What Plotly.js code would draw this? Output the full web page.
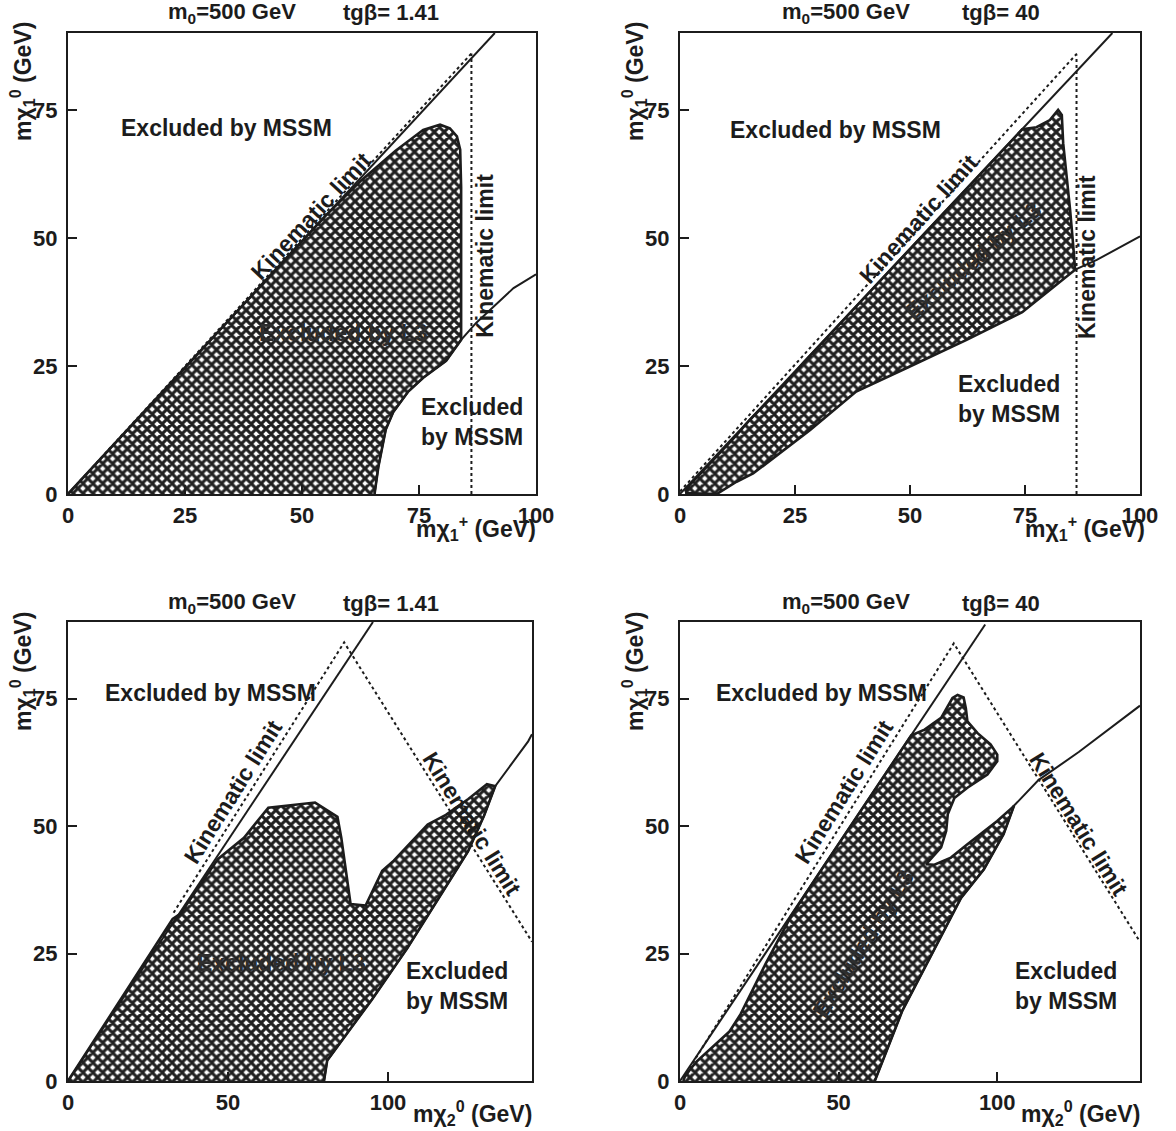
<!DOCTYPE html>
<html>
<head>
<meta charset="utf-8">
<script src="https://cdn.plot.ly/plotly-3.0.1.min.js"></script>
<style>html,body{margin:0;padding:0;background:#fff;}#chart{width:1176px;height:1131px;}</style>
</head>
<body>
<div id="chart"></div>
<script>
// ---------- Panel A: tgβ = 1.41, m(chargino) ----------
const aUpperX = [0, 91.2];
const aUpperY = [0, 90];
const aKinDiagX = [0, 86.2];
const aKinDiagY = [0, 86];
const aKinVertX = [86.2, 86.2];
const aKinVertY = [0, 86];
const aLowerX = [65.5, 66.3, 67.9, 69.5, 72.7, 75.9, 80.8, 84, 87.2, 90.4, 95.2, 100];
const aLowerY = [0, 5.2, 12.6, 16, 20, 22.7, 26, 30.1, 33.4, 36.1, 40.2, 42.9];
const aRegionX = [0, 55, 62.4, 70, 75.9, 79.5, 81.6, 83.1, 83.8, 84, 84, 84, 80.8, 75.9, 72.7, 69.5, 67.9, 66.3, 65.5];
const aRegionY = [0, 54.3, 61, 67, 71.1, 72.1, 71.4, 69.8, 67.2, 60, 45, 30.1, 26, 22.7, 20, 16, 12.6, 5.2, 0];

// ---------- Panel B: tgβ = 40, m(chargino) ----------
const bUpperX = [0, 94];
const bUpperY = [0, 90];
const bKinDiagX = [0, 86.3];
const bKinDiagY = [0.5, 86];
const bKinVertX = [86.2, 86.2];
const bKinVertY = [0, 85.6];
const bLowerX = [85.9, 90.6, 100];
const bLowerY = [43.8, 45.7, 50.3];
const bRegionX = [1.1, 2.2, 5.1, 12.3, 15.2, 22.3, 27.1, 38.3, 50.3, 62.3, 70.4, 74.4, 77.5, 80.4, 82.2, 83, 83.3, 84.1, 84.8, 85.5, 85.9, 74.4, 62.3, 49.5, 38.3, 28.3, 21.7, 15.9, 12.3, 8, 1.1];
const bRegionY = [0.45, 1.9, 4.6, 11.5, 14.5, 21, 25.9, 36.6, 48.1, 59.6, 67.4, 71.2, 71.6, 73, 75, 74, 68.5, 62, 55.5, 48.3, 43.8, 35.5, 30.1, 24.7, 20, 12.5, 7.9, 4, 2.4, 0, 0.2];

// ---------- Panel C: tgβ = 1.41, m(neutralino 2) ----------
const cUpperX = [0, 95.3];
const cUpperY = [0, 90];
const cKinX = [33, 86.3, 145];
const cKinY = [33, 86, 27.3];
const cLowerX = [80, 81, 88, 95, 106, 117, 125, 130, 133.5, 143.8, 145];
const cLowerY = [0, 4, 10, 16, 26, 37, 45, 52, 57.8, 66.6, 68];
const cRegionX = [0, 32.7, 35.1, 46.8, 55, 62.6, 77.2, 84.2, 85.4, 88.3, 93, 98.2, 101.8, 112.4, 118.1, 125.1, 130.9, 133.5, 130, 125, 117, 106, 95, 88, 81, 80];
const cRegionY = [0, 31.8, 32.8, 43.5, 47.7, 53.6, 54.6, 51.8, 47.7, 34.7, 34.4, 41.2, 43.2, 50.3, 52.2, 55.3, 58.2, 57.8, 52, 45, 37, 26, 16, 10, 4, 0];

// ---------- Panel D: tgβ = 40, m(neutralino 2) ----------
const dUpperX = [0, 96.2];
const dUpperY = [0, 89.5];
const dKinX = [2, 86.3, 145];
const dKinY = [1.5, 85.8, 27.3];
const dLowerX = [61.4, 70.1, 79.4, 88.6, 95.8, 102, 105.3, 113, 125.7, 145];
const dLowerY = [0, 13.8, 24.9, 35.9, 41.5, 48.4, 54, 59, 64.5, 73.6];
const dRegionX = [1, 1.5, 3, 5.2, 15.6, 19.1, 27, 35, 45, 56, 65, 72.9, 77.1, 82.3, 85.9, 87.5, 89.4, 90.1, 90.6, 93.8, 97.9, 100, 100, 96.9, 90.6, 86.5, 84.4, 83.9, 82.3, 78.6, 77.6, 80.2, 85.4, 90.6, 95.8, 100, 104.7, 105.3, 102, 95.8, 88.6, 79.4, 70.1, 61.4];
const dRegionY = [0, 0.8, 2.1, 3.8, 9.7, 13.1, 23, 32.3, 41.8, 52, 60.4, 67.8, 68.9, 71.2, 75.1, 75.7, 75.2, 73.1, 70.5, 68.2, 66, 64, 62.7, 60.1, 57.5, 55.5, 52.3, 49, 45.8, 43.2, 42.5, 42.4, 43.8, 46.4, 49, 51, 53.6, 54, 48.4, 41.5, 35.9, 24.9, 13.8, 0];

// ---------- Tick values ----------
const xTicksChargino = [0, 25, 50, 75, 100];
const xTicksNeutralino = [0, 50, 100];
const yTicks = [0, 25, 50, 75];

// ---------- Styling helpers ----------
const INK = '#1c1c1c';
const FONT = 'Liberation Sans, Arial, Helvetica, sans-serif';
const W = 1176, H = 1131;
const fx = p => p / W;
const fy = p => 1 - p / H;

function dotted(x, y, xa, ya) {
  return {x, y, xaxis: xa, yaxis: ya, mode: 'lines', hoverinfo: 'skip',
    line: {color: INK, width: 2, dash: 'dot'}};
}
function solid(x, y, xa, ya) {
  return {x, y, xaxis: xa, yaxis: ya, mode: 'lines', hoverinfo: 'skip',
    line: {color: INK, width: 2}};
}
function region(x, y, xa, ya) {
  return {x, y, xaxis: xa, yaxis: ya, mode: 'lines', fill: 'toself', hoverinfo: 'skip',
    line: {color: INK, width: 2.6},
    fillcolor: 'white',
    fillpattern: {shape: 'x', size: 7, solidity: 0.68, fgcolor: '#202020', bgcolor: 'white'}};
}

const traces = [
  dotted(aKinDiagX, aKinDiagY, 'x', 'y'),
  dotted(aKinVertX, aKinVertY, 'x', 'y'),
  region(aRegionX, aRegionY, 'x', 'y'),
  solid(aUpperX, aUpperY, 'x', 'y'),
  solid(aLowerX, aLowerY, 'x', 'y'),

  dotted(bKinDiagX, bKinDiagY, 'x2', 'y2'),
  dotted(bKinVertX, bKinVertY, 'x2', 'y2'),
  region(bRegionX, bRegionY, 'x2', 'y2'),
  solid(bUpperX, bUpperY, 'x2', 'y2'),
  solid(bLowerX, bLowerY, 'x2', 'y2'),

  dotted(cKinX, cKinY, 'x3', 'y3'),
  region(cRegionX, cRegionY, 'x3', 'y3'),
  solid(cUpperX, cUpperY, 'x3', 'y3'),
  solid(cLowerX, cLowerY, 'x3', 'y3'),

  dotted(dKinX, dKinY, 'x4', 'y4'),
  region(dRegionX, dRegionY, 'x4', 'y4'),
  solid(dUpperX, dUpperY, 'x4', 'y4'),
  solid(dLowerX, dLowerY, 'x4', 'y4')
];

const tickFont = {family: FONT, size: 22, color: INK, weight: 'bold'};
function xAxis(domain, range, tickvals, anchor) {
  return {domain, range, tickvals, anchor, showline: true, mirror: true, linecolor: INK, linewidth: 2,
    ticks: 'inside', ticklen: 9, tickwidth: 2, tickcolor: INK, tickfont: tickFont,
    showgrid: false, zeroline: false, fixedrange: true, ticklabelstandoff: 1};
}
function yAxis(domain, anchor) {
  return {domain, range: [0, 90], tickvals: yTicks, anchor, showline: true, mirror: true, linecolor: INK, linewidth: 2,
    ticks: 'inside', ticklen: 9, tickwidth: 2, tickcolor: INK, tickfont: tickFont,
    showgrid: false, zeroline: false, fixedrange: true, ticklabelstandoff: 4};
}

const xdL = [fx(68), fx(536)];
const xdR = [fx(680), fx(1140)];
const xdCL = [fx(68), fx(532)];
const ydT = [fy(494), fy(33)];
const ydB = [fy(1081), fy(622)];

const lab = {family: FONT, size: 23, color: INK, weight: 'bold'};
function note(text, x, y, xr, yr, extra) {
  return Object.assign({text, x, y, xref: xr, yref: yr, showarrow: false, font: lab,
    xanchor: 'center', yanchor: 'middle'}, extra || {});
}
function paperNote(text, px, py, extra) {
  return Object.assign({text, x: fx(px), y: fy(py), xref: 'paper', yref: 'paper', showarrow: false,
    font: lab, xanchor: 'center', yanchor: 'middle'}, extra || {});
}

const titleFont = {...lab, size: 22};
const yTitle = 'mχ<sub>1</sub><sup>0</sup> (GeV)';
const annotations = [
  // titles
  paperNote('m<sub>0</sub>=500 GeV', 232, 13, {font: titleFont}),
  paperNote('tgβ= 1.41', 391, 13, {font: titleFont}),
  paperNote('m<sub>0</sub>=500 GeV', 846, 13, {font: titleFont}),
  paperNote('tgβ= 40', 1001, 13, {font: titleFont}),
  paperNote('m<sub>0</sub>=500 GeV', 232, 603, {font: titleFont}),
  paperNote('tgβ= 1.41', 391, 603, {font: titleFont}),
  paperNote('m<sub>0</sub>=500 GeV', 846, 603, {font: titleFont}),
  paperNote('tgβ= 40', 1001, 603, {font: titleFont}),
  // y titles
  paperNote(yTitle, 22, 82, {textangle: -90}),
  paperNote(yTitle, 634, 82, {textangle: -90}),
  paperNote(yTitle, 22, 672, {textangle: -90}),
  paperNote(yTitle, 634, 672, {textangle: -90}),
  // x titles
  paperNote('mχ<sub>1</sub><sup>+</sup> (GeV)', 476, 528),
  paperNote('mχ<sub>1</sub><sup>+</sup> (GeV)', 1085, 528),
  paperNote('mχ<sub>2</sub><sup>0</sup> (GeV)', 472, 1113),
  paperNote('mχ<sub>2</sub><sup>0</sup> (GeV)', 1080, 1113),

  // Panel A labels
  note('Excluded by MSSM', 33.8, 71.5, 'x', 'y'),
  note('Excluded<br>by MSSM', 86.4, 14, 'x', 'y'),
  note('Kinematic limit', 51.9, 54.3, 'x', 'y', {textangle: -47}),
  note('Kinematic limit', 89.2, 46.6, 'x', 'y', {textangle: -90}),
  note('Excluded by L3', 58.8, 31.4, 'x', 'y', {font: {...lab, color: '#2e2e2e'}}),

  // Panel B labels
  note('Excluded by MSSM', 33.9, 71.1, 'x2', 'y2'),
  note('Excluded<br>by MSSM', 71.6, 18.6, 'x2', 'y2'),
  note('Kinematic limit', 51.9, 53.6, 'x2', 'y2', {textangle: -48}),
  note('Kinematic limit', 88.6, 46.2, 'x2', 'y2', {textangle: -90}),
  note('Excluded by L3', 63.9, 45.6, 'x2', 'y2', {textangle: -40, font: {...lab, color: '#2e2e2e'}}),

  // Panel C labels
  note('Excluded by MSSM', 44.4, 76, 'x3', 'y3'),
  note('Excluded<br>by MSSM', 121.6, 18.7, 'x3', 'y3'),
  note('Kinematic limit', 51.5, 56.7, 'x3', 'y3', {textangle: -58}),
  note('Kinematic limit', 126.3, 50.4, 'x3', 'y3', {textangle: 58}),
  note('Excluded by L3', 66.7, 23.2, 'x3', 'y3', {font: {...lab, color: '#2e2e2e'}}),

  // Panel D labels
  note('Excluded by MSSM', 44.6, 76, 'x4', 'y4'),
  note('Excluded<br>by MSSM', 121.7, 18.7, 'x4', 'y4'),
  note('Kinematic limit', 51.6, 56.7, 'x4', 'y4', {textangle: -58}),
  note('Kinematic limit', 125.7, 50.4, 'x4', 'y4', {textangle: 58}),
  note('Excluded by L3', 57.9, 27, 'x4', 'y4', {textangle: -58, font: {...lab, color: '#2e2e2e'}})
];

const layout = {
  width: W, height: H,
  margin: {l: 0, r: 0, t: 0, b: 0},
  paper_bgcolor: 'white', plot_bgcolor: 'white',
  showlegend: false,
  font: {family: FONT, color: INK},
  xaxis: xAxis(xdL, [0, 100], xTicksChargino, 'y'),
  yaxis: yAxis(ydT, 'x'),
  xaxis2: xAxis(xdR, [0, 100], xTicksChargino, 'y2'),
  yaxis2: yAxis(ydT, 'x2'),
  xaxis3: xAxis(xdCL, [0, 145], xTicksNeutralino, 'y3'),
  yaxis3: yAxis(ydB, 'x3'),
  xaxis4: xAxis(xdR, [0, 145], xTicksNeutralino, 'y4'),
  yaxis4: yAxis(ydB, 'x4'),
  annotations
};

Plotly.newPlot('chart', traces, layout, {staticPlot: true, displayModeBar: false});
</script>
</body>
</html>
